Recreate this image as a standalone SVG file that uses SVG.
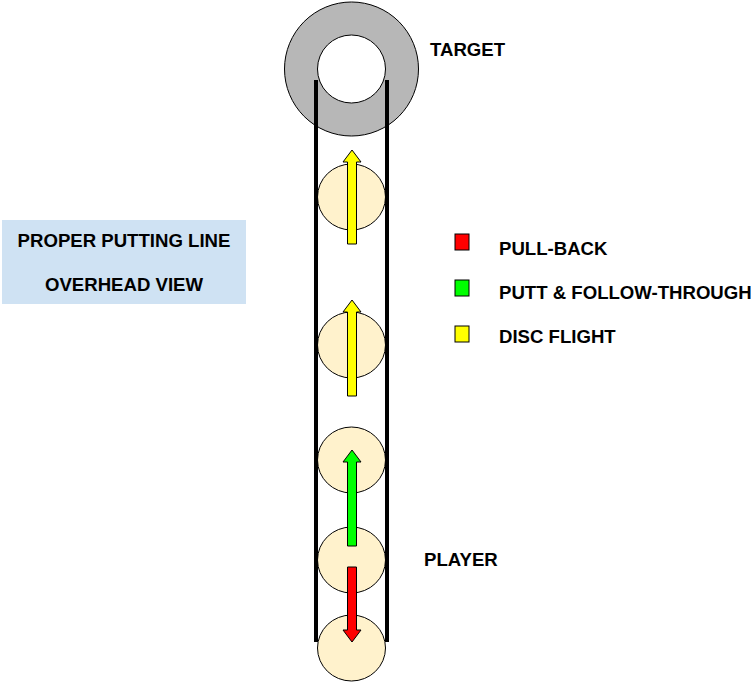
<svg xmlns="http://www.w3.org/2000/svg" width="751" height="683" viewBox="0 0 751 683">
<style>
text{font-family:"Liberation Sans",Arial,sans-serif;font-weight:bold;font-size:18.6px;fill:#000}
.disc{fill:#fff2cc;stroke:#000;stroke-width:1}
.arr{stroke:#000;stroke-width:1}
.rail{stroke:#000;stroke-width:4}
</style>
<rect x="0" y="0" width="751" height="683" fill="#fff"/>
<g id="title"><rect x="2" y="220" width="244" height="84" fill="#cfe2f3"/>
<text x="124" y="247" text-anchor="middle">PROPER PUTTING LINE</text>
<text x="124" y="291" text-anchor="middle">OVERHEAD VIEW</text></g>
<g id="target"><path d="M284.5,69a67,67 0 1,0 134,0a67,67 0 1,0 -134,0zM317.5,69a34,34 0 1,1 68,0a34,34 0 1,1 -68,0z" fill="#b7b7b7" fill-rule="evenodd" stroke="#000" stroke-width="1"/>
<text x="430" y="56">TARGET</text></g>
<g id="discs">
<ellipse class="disc" cx="351.5" cy="197" rx="34" ry="33"/>
<ellipse class="disc" cx="351.5" cy="345" rx="34" ry="33"/>
<ellipse class="disc" cx="351.5" cy="460" rx="34" ry="33"/>
<ellipse class="disc" cx="351.5" cy="560" rx="34" ry="33"/>
<ellipse class="disc" cx="351.5" cy="648" rx="34" ry="33"/>
</g>
<g id="connectors">
<line class="rail" x1="316" y1="80" x2="316" y2="642"/>
<line class="rail" x1="387" y1="80" x2="387" y2="642"/>
<path class="arr" fill="#ffff00" d="M352,150l9,12h-4.5v82h-9v-82h-4.5z"/>
<path class="arr" fill="#ffff00" d="M352,300l9,12h-4.5v84h-9v-84h-4.5z"/>
<path class="arr" fill="#00ff00" d="M352,450l9,12h-4.5v84h-9v-84h-4.5z"/>
<path class="arr" fill="#ff0000" d="M352,642l9,-12h-4.5v-63h-9v63h-4.5z"/>
</g>
<g id="player"><text x="424" y="566">PLAYER</text></g>
<g id="legend">
<rect x="455" y="234" width="14" height="16" fill="#ff0000" stroke="#000"/>
<rect x="455" y="280" width="14" height="16" fill="#00ff00" stroke="#000"/>
<rect x="455" y="326" width="14" height="16" fill="#ffff00" stroke="#000"/>
<text x="499" y="255">PULL-BACK</text>
<text x="499" y="299">PUTT &amp; FOLLOW-THROUGH</text>
<text x="499" y="343">DISC FLIGHT</text>
</g>
</svg>
